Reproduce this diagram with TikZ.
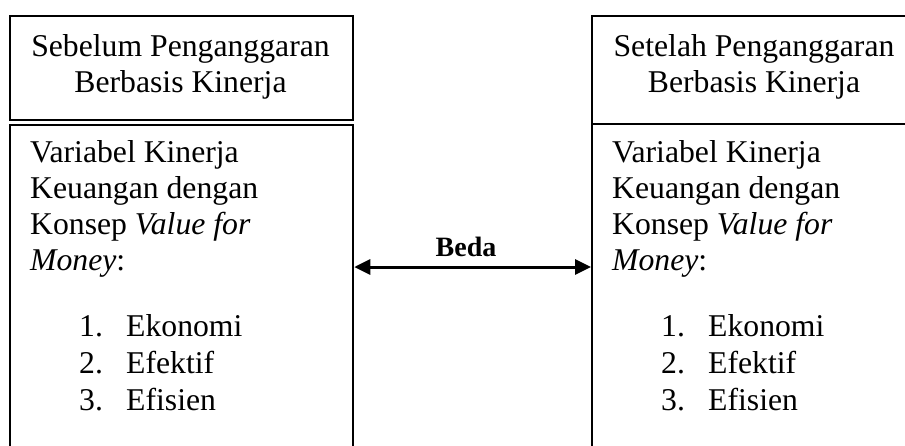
\documentclass[tikz,border=0pt]{standalone}
\usepackage{fontspec}
\setmainfont{Liberation Serif}
\usetikzlibrary{arrows.meta}
\begin{document}
\begin{tikzpicture}[x=1pt,y=-1pt,
  frame/.style={draw, line width=2.3pt, inner sep=0pt, anchor=north west},
  txt/.style={inner sep=0pt, anchor=base west, font=\fontsize{31.7}{36.4}\selectfont},
  ctr/.style={txt, anchor=base},
  arr/.style={line width=3pt, {Triangle[length=16pt,width=15pt]}-{Triangle[length=16pt,width=15pt]}}]
\clip (0,0) rectangle (905,445);
\fill[white] (0,0) rectangle (905,445);

% left column: header and body boxes
\node[frame, minimum width=343pt, minimum height=104pt] (lhd) at (9,15) {};
\node[frame, minimum width=343pt, minimum height=400pt] (lbd) at (9,124) {};
% right column: header and body boxes
\node[frame, minimum width=330pt, minimum height=108pt] (rhd) at (591,15) {};
\node[frame, minimum width=330pt, minimum height=400pt] (rbd) at (591,123) {};

% header texts
\node[ctr] (lh1) at (180.5,56) {Sebelum Penganggaran};
\node[ctr] (lh2) at (180.5,92) {Berbasis Kinerja};
\node[ctr] (rh1) at (754,56) {Setelah Penganggaran};
\node[ctr] (rh2) at (754,92) {Berbasis Kinerja};

% left body text
\node[txt] (lb1) at (30,162) {Variabel Kinerja};
\node[txt] (lb2) at (30,198) {Keuangan dengan};
\node[txt] (lb3) at (30,234) {Konsep \textit{Value for}};
\node[txt] (lb4) at (30,270) {\textit{Money}:};
\node[txt] (ln1) at (79,336) {1.};
\node[txt] (ln2) at (79,373) {2.};
\node[txt] (ln3) at (79,410) {3.};
\node[txt] (li1) at (126,336) {Ekonomi};
\node[txt] (li2) at (126,373) {Efektif};
\node[txt] (li3) at (126,410) {Efisien};

% right body text
\node[txt] (rb1) at (612,162) {Variabel Kinerja};
\node[txt] (rb2) at (612,198) {Keuangan dengan};
\node[txt] (rb3) at (612,234) {Konsep \textit{Value for}};
\node[txt] (rb4) at (612,270) {\textit{Money}:};
\node[txt] (rn1) at (661,336) {1.};
\node[txt] (rn2) at (661,373) {2.};
\node[txt] (rn3) at (661,410) {3.};
\node[txt] (ri1) at (708,336) {Ekonomi};
\node[txt] (ri2) at (708,373) {Efektif};
\node[txt] (ri3) at (708,410) {Efisien};

% comparison arrow
\draw[arr] ([yshift=-143pt]lbd.north east) -- ([yshift=-144pt]rbd.north west);
\node[ctr, font=\fontsize{28}{30}\selectfont\bfseries] (beda) at (466,256) {Beda};
\end{tikzpicture}
\end{document}
